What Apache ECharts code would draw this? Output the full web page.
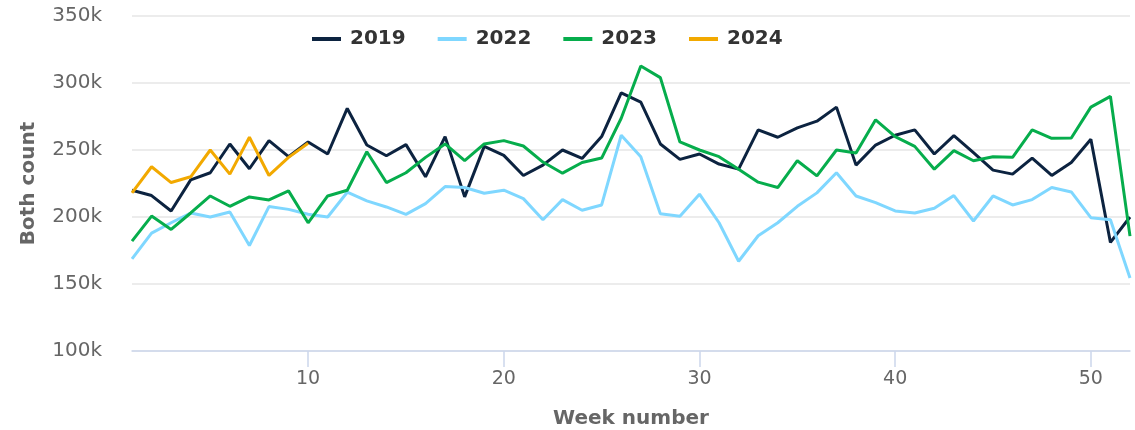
<!DOCTYPE html>
<html>
<head>
<meta charset="utf-8">
<script src="https://cdn.jsdelivr.net/npm/echarts@6/dist/echarts.min.js"></script>
<style>
  html, body { margin: 0; padding: 0; background: #fff; }
  #main { width: 1135px; height: 430px; }
</style>
</head>
<body>
<div id="main"></div>
<script>
var weeks = [];
for (var i = 1; i <= 52; i++) weeks.push(i);

var y2019 = [220, 216, 204.5, 227.7, 233, 254.5, 236, 257, 245, 256,
  247, 281, 253.7, 245.7, 254, 230, 260, 215, 252.7, 246,
  231, 238.7, 250, 243.7, 260, 292.7, 285.7, 254.5, 243, 247,
  239.5, 235.7, 265, 259.5, 266.5, 271.5, 282, 238.7, 253.7, 261,
  265, 247, 260.7, 248, 235, 232, 244, 231, 240.7, 258,
  181, 200];
var y2022 = [168.7, 188, 195.7, 203, 200, 203.7, 178.7, 207.8, 205.7, 202,
  200, 218.5, 212, 207.5, 202, 210, 222.7, 222, 217.7, 220,
  213.7, 198, 213, 205, 209, 261, 245, 202.5, 200.5, 217,
  195.7, 167, 186, 195.7, 208, 218, 233, 215.7, 210.7, 204.5,
  203, 206.5, 216, 197, 215.7, 209, 213, 222, 218.7, 199.5,
  198, 154.5];
var y2023 = [182, 200.7, 190.7, 203, 215.7, 208, 215, 212.7, 219.5, 195.7,
  215.7, 220, 248.7, 225.7, 233, 244.5, 254.5, 242, 254.5, 257,
  253, 241, 232.7, 240.7, 244, 273.7, 312.7, 304, 256, 250,
  245, 235.7, 226, 222, 242, 230.7, 250, 247.7, 272.5, 260,
  252.7, 235.7, 249.5, 242, 245, 244.5, 265, 258.7, 259, 282,
  290, 185.7];
var y2024 = [218, 237.5, 225.7, 230, 250, 232, 259.5, 231, 244.5, 255];

function toK(arr) {
  return arr.map(function (v) { return v * 1000; });
}

var chart = echarts.init(document.getElementById('main'));
var font = 'DejaVu Sans';

function lineSeries(name, data, color) {
  return {
    name: name,
    type: 'line',
    data: toK(data),
    showSymbol: false,
    symbol: 'none',
    lineStyle: { width: 3, color: color },
    itemStyle: { color: color }
  };
}

var option = {
  animation: false,
  textStyle: { fontFamily: font },
  grid: { left: 132, right: 5, top: 16, bottom: 79, containLabel: false, outerBoundsMode: 'none' },
  legend: {
    left: 307,
    top: 24,
    icon: 'rect',
    itemWidth: 29,
    itemHeight: 4,
    itemGap: 32,
    textStyle: { fontFamily: font, fontSize: 20, fontWeight: 'bold', color: '#333', padding: [0, 0, 0, 4] },
    data: ['2019', '2022', '2023', '2024']
  },
  xAxis: {
    type: 'category',
    data: weeks,
    boundaryGap: false,
    name: 'Week number',
    nameLocation: 'middle',
    nameGap: 58,
    nameTextStyle: { fontFamily: font, fontSize: 20, fontWeight: 'bold', color: '#666' },
    axisLine: { lineStyle: { color: '#ccd6eb', width: 1.5 } },
    axisTick: {
      length: 16,
      lineStyle: { color: '#ccd6eb', width: 1.5 },
      interval: function (idx, val) { return Number(val) % 10 === 0; }
    },
    axisLabel: {
      margin: 19,
      fontSize: 19,
      color: '#666',
      interval: function (idx, val) { return Number(val) % 10 === 0; }
    },
    splitLine: { show: false }
  },
  yAxis: {
    type: 'value',
    min: 100000,
    max: 350000,
    interval: 50000,
    name: 'Both count',
    nameLocation: 'middle',
    nameGap: 93,
    nameTextStyle: { fontFamily: font, fontSize: 20, fontWeight: 'bold', color: '#666' },
    axisLine: { show: false },
    axisTick: { show: false },
    axisLabel: {
      margin: 30,
      fontSize: 20,
      color: '#666',
      formatter: function (v) { return (v / 1000) + 'k'; }
    },
    splitLine: { lineStyle: { color: '#e6e6e6', width: 1.5 } }
  },
  series: [
    lineSeries('2019', y2019, '#0c2340'),
    lineSeries('2022', y2022, '#7fd7ff'),
    lineSeries('2023', y2023, '#06ad4c'),
    lineSeries('2024', y2024, '#f2a900')
  ]
};
chart.setOption(option);
</script>
</body>
</html>
